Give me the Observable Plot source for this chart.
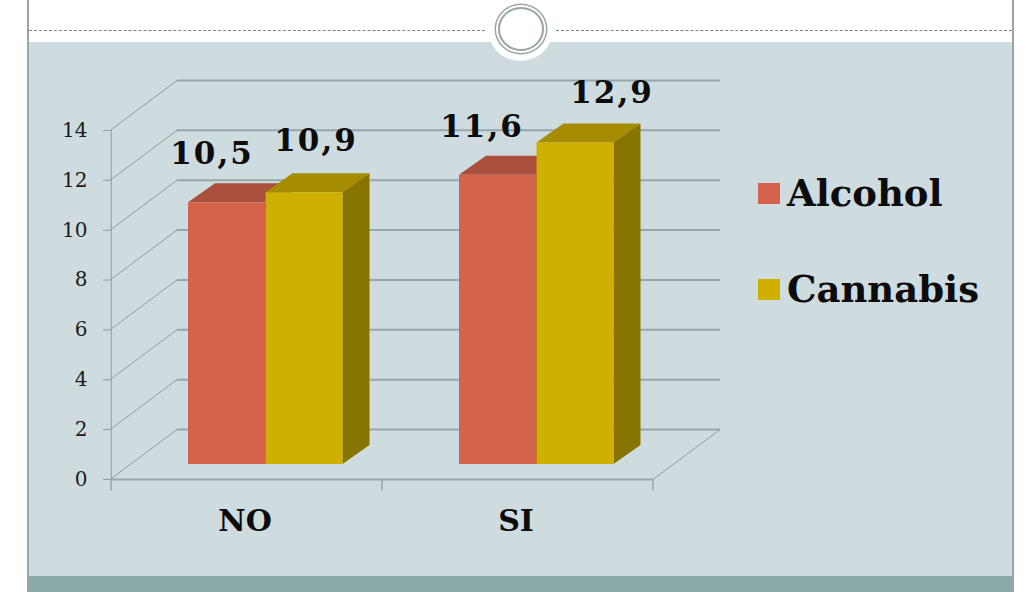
<!DOCTYPE html>
<html>
<head>
<meta charset="utf-8">
<script src="https://cdn.jsdelivr.net/npm/d3@7"></script>
<script src="https://cdn.jsdelivr.net/npm/@observablehq/plot@0.6"></script>
<style>
html,body{margin:0;padding:0;background:#fff;width:1032px;height:592px;overflow:hidden;position:relative}
.bg{position:absolute}
#panel{left:28px;top:42px;width:984px;height:534px;background:#cedbdf}
#foot{left:28px;top:576px;width:984px;height:16px;background:#8aaaa8}
#bl{left:27px;top:0;width:2px;height:592px;background:#9aa5a8}
#br{left:1012px;top:0;width:2px;height:592px;background:#9aa5a8}
.dash{top:30px;height:0;border-top:1px dashed #75868a}
#halo{left:488px;top:-3px;width:65px;height:64px;border-radius:50%;background:#fff}
#ring{left:498px;top:6.5px;width:42px;height:40px;border-radius:50%;border:2px solid #9aa5a8;box-shadow:0 0 0 2px #fff,0 0 0 3.5px #9aa5a8}
#chart{position:absolute;left:0;top:0}
.val text{letter-spacing:2px}
.legend{position:absolute;left:758px;font:bold 37px "DejaVu Serif",serif;color:#0c0c0c;line-height:1;display:flex;align-items:center;white-space:nowrap}
.legend i{display:block;width:22px;height:21px;margin-right:7px}
</style>
</head>
<body>
<div class="bg" id="panel"></div>
<div class="bg" id="foot"></div>
<div class="bg" id="bl"></div>
<div class="bg" id="br"></div>
<div class="bg dash" style="left:29px;width:456px"></div>
<div class="bg dash" style="left:556px;width:456px"></div>
<div class="bg" id="halo"></div>
<div class="bg" id="ring"></div>
<div id="chart"></div>
<div class="legend" style="top:175px"><i style="background:#d5634a"></i>Alcohol</div>
<div class="legend" style="top:271px"><i style="background:#cfb000"></i>Cannabis</div>
<script>
const categories = ["NO", "SI"];
const alcohol = [10.5, 11.6];
const cannabis = [10.9, 12.9];
const yTicks = [0, 2, 4, 6, 8, 10, 12, 14];

const rows = (vals, series) => categories.map((c, i) => ({cat: c, value: vals[i], series}));
const alcoholRows = rows(alcohol, "Alcohol");
const cannabisRows = rows(cannabis, "Cannabis");

const wall = {dx: 67, dy: -50};
const depth = {dx: 27, dy: -19};
const gridColor = "#8e9da1";
const NS = "http://www.w3.org/2000/svg";
const fmt = v => String(v).replace(".", ",");

function polygon(pts, fill) {
  const p = document.createElementNS(NS, "polygon");
  p.setAttribute("points", pts.map(q => q.join(",")).join(" "));
  p.setAttribute("fill", fill);
  return p;
}

// front face comes from Plot's bar; top and side follow from its scaled geometry
function box(data, front, top, side, insetLeft, insetRight) {
  return Plot.barY(data, {
    x: "cat", y: "value", fill: front, insetLeft, insetRight, dx: 19, dy: -15,
    render(index, scales, values, dims, ctx, next) {
      const g = next(index, scales, values, dims, ctx);
      for (const r of [...g.querySelectorAll("rect")]) {
        const x = +r.getAttribute("x"), y = +r.getAttribute("y");
        const w = +r.getAttribute("width"), h = +r.getAttribute("height");
        g.appendChild(polygon([[x, y], [x + depth.dx, y + depth.dy], [x + w + depth.dx, y + depth.dy], [x + w, y]], top));
        g.appendChild(polygon([[x + w, y], [x + w + depth.dx, y + depth.dy], [x + w + depth.dx, y + h + depth.dy], [x + w, y + h]], side));
        g.appendChild(r);
      }
      return g;
    }
  });
}

// gridline end-points turned into the receding diagonals of the side wall
function diagonals(vals, atRight) {
  return Plot.ruleY(vals, {
    stroke: gridColor, strokeWidth: 1,
    render(index, scales, values, dims, ctx, next) {
      const g = next(index, scales, values, dims, ctx);
      for (const l of g.querySelectorAll("line")) {
        const x = +l.getAttribute(atRight ? "x2" : "x1"), y = +l.getAttribute("y1");
        l.setAttribute("x1", x);
        l.setAttribute("x2", x + wall.dx);
        l.setAttribute("y2", y + wall.dy);
      }
      return g;
    }
  });
}

// category boundary ticks on the base line
const boundaryTicks = Plot.ruleY([0], {
  stroke: "#97a6aa", strokeWidth: 2,
  render(index, scales, values, dims, ctx, next) {
    const g = next(index, scales, values, dims, ctx);
    const base = g.querySelector("line");
    const y = +base.getAttribute("y1");
    const xs = categories.map(c => scales.x(c));
    const step = xs[1] - xs[0];
    xs.push(xs[xs.length - 1] + step);
    for (const x of xs) {
      const t = base.cloneNode();
      t.setAttribute("x1", x); t.setAttribute("x2", x);
      t.setAttribute("y1", y); t.setAttribute("y2", y + 11);
      t.setAttribute("stroke-width", 1.5);
      g.appendChild(t);
    }
    return g;
  }
});

function valueLabel(rowsOf, i, dx, dy) {
  return Plot.text([rowsOf[i]], {
    x: "cat", y: "value", text: d => fmt(d.value), dx, dy, className: "val",
    fontSize: 31, fontWeight: "bold", fontFamily: '"DejaVu Serif", serif', fill: "#0c0c0c"
  });
}

const chart = Plot.plot({
  width: 1032, height: 592,
  marginLeft: 110, marginRight: 379, marginTop: 130, marginBottom: 113,
  style: {background: "transparent", overflow: "visible"},
  x: {domain: categories, padding: 0, label: null},
  y: {domain: [0, 14], label: null, ticks: yTicks},
  marks: [
    Plot.ruleY(yTicks, {dx: wall.dx, dy: wall.dy, stroke: "#97a6aa", strokeWidth: 2}),
    diagonals(yTicks, false),
    diagonals([0], true),
    Plot.ruleX(categories.slice(0, 1), {x: d => d, dx: -135.75, y1: 0, y2: 14, stroke: gridColor, strokeWidth: 1}),
    boundaryTicks,
    box(alcoholRows, "#d5634a", "#a94f3c", "#a94f3c", 58, 136),
    box(cannabisRows, "#cfb000", "#a68c00", "#887400", 135.5, 58.5),
    Plot.axisY({ticks: yTicks, tickSize: 7, tickPadding: 16, stroke: gridColor, fontSize: 20,
      fontFamily: '"DejaVu Serif", serif', fill: "#1c1c1c", label: null, textStroke: "none"}),
    Plot.axisX({tickSize: 0, tickPadding: 30, dx: -2, fontSize: 30, fontWeight: "bold",
      fontFamily: '"DejaVu Serif", serif', fill: "#0c0c0c", label: null}),
    valueLabel(alcoholRows, 0, -35, -64),
    valueLabel(cannabisRows, 0, 69, -67),
    valueLabel(alcoholRows, 1, -36, -63),
    valueLabel(cannabisRows, 1, 94, -65)
  ]
});
document.getElementById("chart").appendChild(chart);
</script>
</body>
</html>
